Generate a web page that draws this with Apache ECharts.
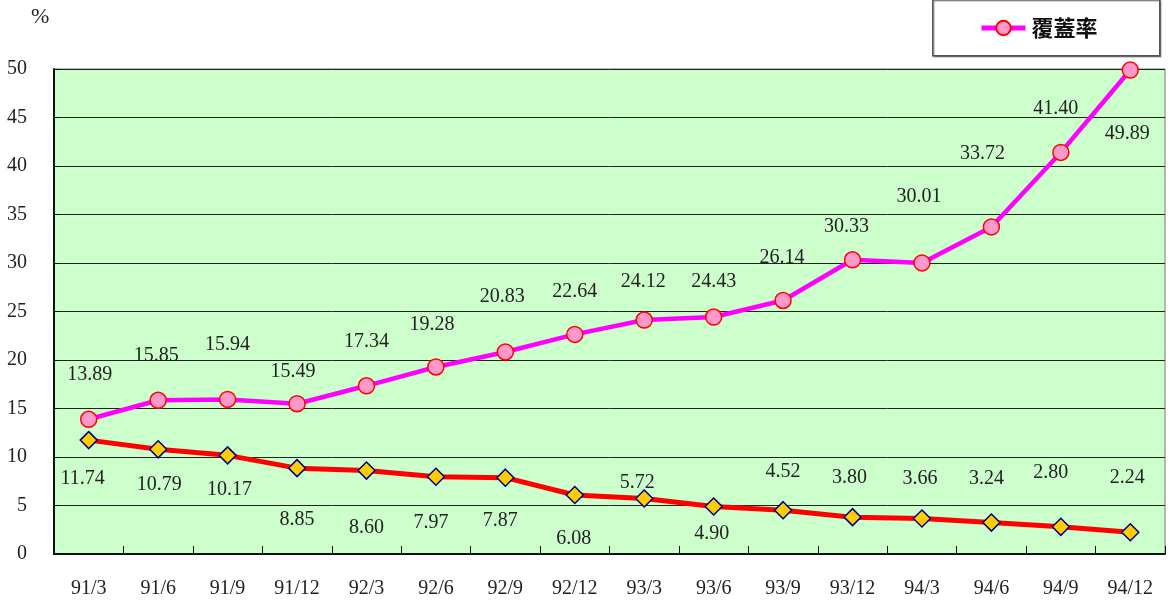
<!DOCTYPE html>
<html>
<head>
<meta charset="utf-8">
<script src="https://cdn.jsdelivr.net/npm/echarts@6/dist/echarts.min.js"></script>
<style>html,body{margin:0;padding:0;background:#fff;}#c{width:1168px;height:600px;}</style>
</head>
<body>
<div id="c"></div>
<script>
// ---- data ----
const categories = ['91/3','91/6','91/9','91/12','92/3','92/6','92/9','92/12','93/3','93/6','93/9','93/12','94/3','94/6','94/9','94/12'];
const coverageRate = [13.89,15.85,15.94,15.49,17.34,19.28,20.83,22.64,24.12,24.43,26.14,30.33,30.01,33.72,41.40,49.89];
const lowerSeries = [11.74,10.79,10.17,8.85,8.60,7.97,7.87,6.08,5.72,4.90,4.52,3.80,3.66,3.24,2.80,2.24];
const yTicks = {min: 0, max: 50, interval: 5};
const seriesName = '覆蓋率';
const unitLabel = '%';

// ---- layout (label offsets relative to the marker) ----
const coverageLabelOffsets = [[1,-45],[-2,-45],[0,-55],[-4,-32],[0,-44],[-4,-42],[-3,-55],[0,-43],[-1,-38],[0,-35],[-1,-43],[-6,-33],[-3,-66],[-9,-73],[-5,-44],[-3,64]];
const lowerLabelOffsets = [[-6,39],[1,35],[2,34],[0,52],[0,57],[-5,46],[-5,43],[-1,44],[-7,-16],[-2,27],[0,-38],[-3,-39],[-2,-40],[-5,-44],[-10,-54],[-3,-55]];

const numFont = 'Liberation Serif';
const labelStyle = {show: true, position: 'inside', fontFamily: numFont, fontSize: 20, color: '#222',
  formatter: p => p.value.toFixed(2)};

const chart = echarts.init(document.getElementById('c'), null, {renderer: 'canvas'});
chart.setOption({
  animation: false,
  grid: {left: 54, right: 3, top: 69, bottom: 46, show: true, backgroundColor: '#CCFFCC', borderColor: '#777', borderWidth: 1},
  legend: {
    data: [seriesName], left: 974, top: 12, itemWidth: 44, itemHeight: 18, itemGap: 10,
    lineStyle: {width: 5},
    textStyle: {fontFamily: 'Noto Sans CJK TC', fontWeight: 'bold', fontSize: 22, color: '#111', padding: [0,0,0,1]}
  },
  graphic: [
    {type: 'rect', left: 932, top: -1, shape: {width: 227, height: 56},
     style: {fill: '#fff', stroke: '#555', lineWidth: 1.5, shadowColor: 'rgba(0,0,0,0.35)', shadowOffsetX: 1, shadowOffsetY: 1, shadowBlur: 1}, z: -1},
    {type: 'text', left: 31, top: 6, style: {text: unitLabel, font: '22px "Liberation Serif"', fill: '#222'}}
  ],
  xAxis: {
    type: 'category', data: categories, boundaryGap: true,
    axisLine: {show: true, lineStyle: {color: '#111', width: 2}},
    axisTick: {show: true, inside: true, length: 8, lineStyle: {color: '#111', width: 1}},
    axisLabel: {margin: 25, fontFamily: numFont, fontSize: 20, color: '#222'},
    splitLine: {show: false}
  },
  yAxis: {
    type: 'value', min: yTicks.min, max: yTicks.max, interval: yTicks.interval,
    axisLine: {show: true, lineStyle: {color: '#111', width: 2}},
    axisTick: {show: true, inside: true, length: 6, lineStyle: {color: '#111'}},
    axisLabel: {margin: 27, fontFamily: numFont, fontSize: 20, color: '#222'},
    splitLine: {show: true, lineStyle: {color: '#222', width: 1}}
  },
  series: [
    {
      name: seriesName, type: 'line', z: 3,
      data: coverageRate.map((v, i) => ({value: v, label: {offset: coverageLabelOffsets[i]}})),
      symbol: 'circle', symbolSize: 16,
      lineStyle: {color: '#FF00FF', width: 4.5},
      itemStyle: {color: '#FF99CC', borderColor: '#FF0000', borderWidth: 1.5},
      label: labelStyle
    },
    {
      name: 'lower', type: 'line', z: 2,
      data: lowerSeries.map((v, i) => ({value: v, label: {offset: lowerLabelOffsets[i]}})),
      symbol: 'diamond', symbolSize: 17,
      lineStyle: {color: '#FF0000', width: 5},
      itemStyle: {color: '#FFCC00', borderColor: '#000080', borderWidth: 1.5},
      label: labelStyle
    }
  ]
});
</script>
</body>
</html>
